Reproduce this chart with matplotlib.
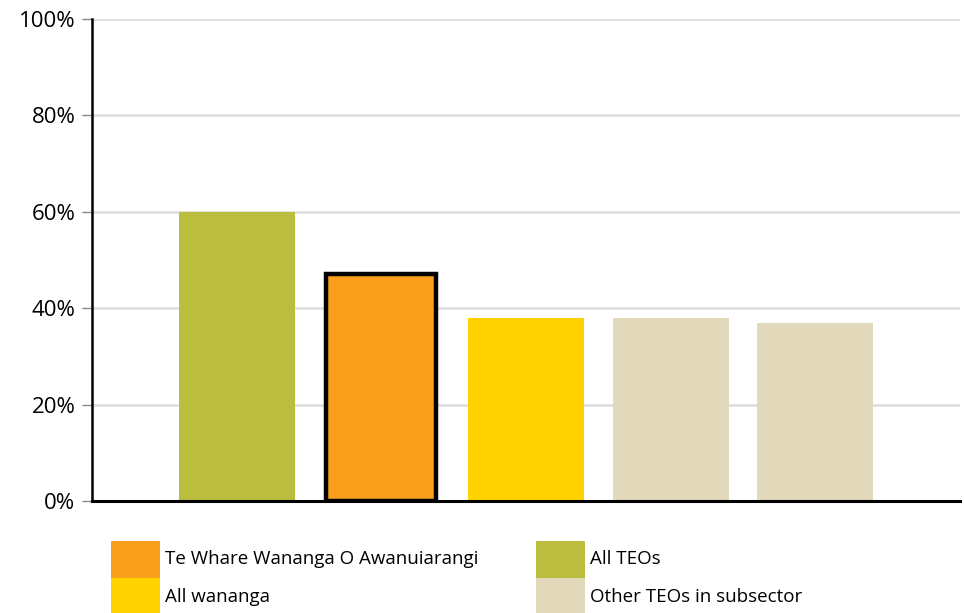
import matplotlib.pyplot as plt
from matplotlib.patches import Rectangle

plt.rcParams['font.family'] = ['Open Sans', 'DejaVu Sans']

# data
groups = ["All TEOs", "Te Whare Wananga O Awanuiarangi", "All wananga",
          "Other TEOs in subsector", "Other TEOs in subsector"]
values = [60, 47, 38, 38, 37]
colors = ["#BBBD3F", "#F99F1B", "#FFD200", "#E2D9BB", "#E2D9BB"]
yticks = [0, 20, 40, 60, 80, 100]

legend_labels = ["Te Whare Wananga O Awanuiarangi", "All wananga",
                 "All TEOs", "Other TEOs in subsector"]
legend_colors = ["#F99F1B", "#FFD200", "#BBBD3F", "#E2D9BB"]

W, H = 964, 613
fig = plt.figure(figsize=(W / 100, H / 100), dpi=100)
ax = fig.add_axes([92 / W, (H - 501) / H, 868 / W, 482 / H])

x = range(1, len(values) + 1)
widths = [0.8, 0.76, 0.8, 0.8, 0.8]
for i, (xi, v) in enumerate(zip(x, values)):
    if i == 1:
        ax.bar(xi, v, width=widths[i], color=colors[i], edgecolor="black",
               linewidth=3.2, zorder=3)
    else:
        ax.bar(xi, v, width=widths[i], color=colors[i], linewidth=0, zorder=3)

ax.set_xlim(0, 6)
ax.set_ylim(0, 100)
ax.set_yticks(yticks)
ax.set_yticklabels([f"{t}%" for t in yticks], fontsize=16)
ax.set_xticks([])
ax.yaxis.grid(True, color="#DDDDDD", linewidth=1.8, zorder=0)
ax.tick_params(axis="y", length=7, width=1, color="#888888", pad=5)

for s in ["top", "right"]:
    ax.spines[s].set_visible(False)
ax.spines["left"].set_linewidth(1.8)
ax.spines["bottom"].set_linewidth(2.2)
ax.spines["left"].set_zorder(5)
ax.spines["bottom"].set_zorder(5)

# legend, two columns of colour blocks
cols_x = [111, 536]
rows_y = [541, 578]
bw, bh = 49, 37
k = 0
for cx in cols_x:
    for ry in rows_y:
        fig.patches.append(Rectangle((cx / W, (H - ry - bh) / H), bw / W, bh / H,
                                     transform=fig.transFigure,
                                     color=legend_colors[k], linewidth=0))
        fig.text((cx + bw + 5) / W, (H - ry - bh / 2) / H, legend_labels[k],
                 fontsize=13.5, va="center", ha="left")
        k += 1

fig.savefig("out.png", dpi=100)
